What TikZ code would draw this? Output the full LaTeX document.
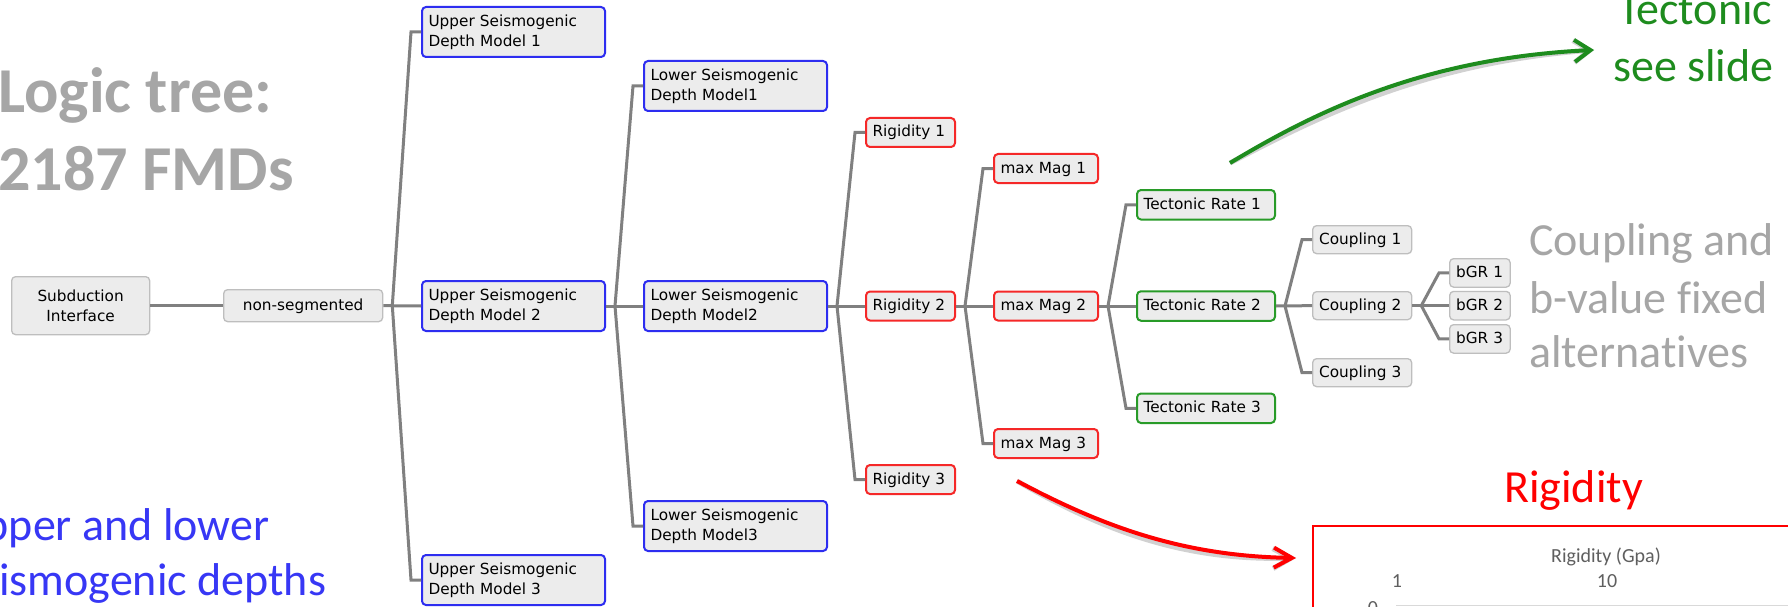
\documentclass[tikz,border=0pt]{standalone}
\usepackage{fontspec}
\setmainfont{DejaVu Sans}
\newfontfamily\calib[Ligatures=NoCommon]{Carlito}
\usetikzlibrary{arrows.meta}
\definecolor{boxfill}{RGB}{236,236,236}
\definecolor{lineg}{RGB}{128,128,128}
\definecolor{bblue}{RGB}{45,45,240}
\definecolor{bred}{RGB}{245,40,40}
\definecolor{bgreen}{RGB}{40,155,40}
\definecolor{bgray}{RGB}{190,190,190}
\definecolor{titlegray}{RGB}{166,166,166}
\definecolor{tblue}{RGB}{55,55,245}
\definecolor{tgreen}{RGB}{30,140,30}
\definecolor{chartgray}{RGB}{95,95,95}
\definecolor{axisgray}{RGB}{217,217,217}
\begin{document}
\begin{tikzpicture}[x=1pt,y=-1pt,
  box/.style={draw, fill=boxfill, rounded corners=4pt, line width=2pt, inner xsep=6.5pt, inner ysep=0pt,
    anchor=north west, font=\fontsize{15.3}{20}\selectfont, align=left},
  one/.style={text height=12pt, text depth=3pt},
  two/.style={text width=170pt, minimum height=50pt},
  bluebox/.style={box, two, draw=bblue},
  rigbox/.style={box, one, draw=bred, text width=76pt, minimum height=29pt},
  magbox/.style={box, one, draw=bred, text width=91pt, minimum height=29pt},
  greenbox/.style={box, one, draw=bgreen, text width=125pt, minimum height=29.5pt},
  graybox/.style={box, draw=bgray, line width=1.3pt},
  cbox/.style={graybox, one, text width=86pt, minimum height=28pt},
  bbox/.style={graybox, one, text width=47.5pt, minimum height=28.5pt},
  conn/.style={draw=lineg, line width=3pt},
  bigtext/.style={anchor=base west, inner sep=0pt, font=\calib\fontsize{46}{46}\selectfont},
  charttext/.style={anchor=base, inner sep=0pt, text=chartgray, font=\calib\fontsize{20}{20}\selectfont},
  shadow/.style={draw=black, opacity=0.18, line width=5pt, shift={(2,5)}}
]
\useasboundingbox (0,0) rectangle (1788,607);
\clip (0,0) rectangle (1788,607);
\fill[white] (0,0) rectangle (1788,607);

% titles and side texts
\node[anchor=base west, inner sep=0pt, text=titlegray, font=\calib\bfseries\fontsize{64}{64}\selectfont] (title1) at (-2,113) {Logic tree:};
\node[anchor=base west, inner sep=0pt, text=titlegray, font=\calib\bfseries\fontsize{64}{64}\selectfont] (title2) at (-2,190) {2187 FMDs};
\node[bigtext, text=tblue] (blue1) at (-45,540) {Upper and lower};
\node[bigtext, text=tblue] (blue2) at (-45,595) {Seismogenic depths};
\node[bigtext, text=titlegray] (cp1) at (1529,255) {Coupling and};
\node[bigtext, text=titlegray] (cp2) at (1529,313) {b-value fixed};
\node[bigtext, text=titlegray] (cp3) at (1529,367) {alternatives};
\node[bigtext, text=tgreen] (tg1) at (1618,25) {Tectonic};
\node[bigtext, text=tgreen] (tg2) at (1613,82) {see slide};
\node[bigtext, text=red] (rigt) at (1504,502) {Rigidity};

% chart frame
\draw[red, line width=2pt, fill=white] (1313,526) rectangle (1810,650);
\node[charttext] (cht) at (1606,562) {Rigidity (Gpa)};
\node[charttext] (tk1) at (1397,587) {1};
\node[charttext] (tk10) at (1607,587) {10};
\node[charttext] (tk0) at (1373,614) {0};
\draw[axisgray, line width=1.5pt] (1396,605.5) -- (1800,605.5);

% tree nodes
\node[graybox, text width=125pt, minimum height=58pt, align=center] (sub) at (11,276) {Subduction\\Interface};
\node[graybox, one, text width=146pt, minimum height=32pt, align=center] (nonseg) at (223,289) {non-segmented};
\node[bluebox] (u1) at (421,6) {Upper Seismogenic\\Depth Model 1};
\node[bluebox] (u2) at (421,280) {Upper Seismogenic\\Depth Model 2};
\node[bluebox] (u3) at (421,554) {Upper Seismogenic\\Depth Model 3};
\node[bluebox] (l1) at (643,60) {Lower Seismogenic\\Depth Model1};
\node[bluebox] (l2) at (643,280) {Lower Seismogenic\\Depth Model2};
\node[bluebox] (l3) at (643,500) {Lower Seismogenic\\Depth Model3};
\node[rigbox] (r1) at (865,117) {Rigidity 1};
\node[rigbox] (r2) at (865,290.5) {Rigidity 2};
\node[rigbox] (r3) at (865,464) {Rigidity 3};
\node[magbox] (m1) at (993,153) {max Mag 1};
\node[magbox] (m2) at (993,290.5) {max Mag 2};
\node[magbox] (m3) at (993,428) {max Mag 3};
\node[greenbox] (t1) at (1136,189) {Tectonic Rate 1};
\node[greenbox] (t2) at (1136,290.25) {Tectonic Rate 2};
\node[greenbox] (t3) at (1136,392.5) {Tectonic Rate 3};
\node[cbox] (c1) at (1312,225) {Coupling 1};
\node[cbox] (c2) at (1312,291) {Coupling 2};
\node[cbox] (c3) at (1312,358) {Coupling 3};
\node[bbox] (b1) at (1449,258) {bGR 1};
\node[bbox] (b2) at (1449,290.75) {bGR 2};
\node[bbox] (b3) at (1449,324) {bGR 3};

% connectors
\draw[conn] (sub.east) -- (nonseg.west);
\foreach \p/\a/\b/\c in {nonseg/u1/u2/u3, u2/l1/l2/l3, l2/r1/r2/r3, r2/m1/m2/m3, m2/t1/t2/t3, t2/c1/c2/c3, c2/b1/b2/b3}{
  \draw[conn] (\p.east) -- (\b.west);
  \draw[conn] ([xshift=9pt]\p.east) -- ([xshift=-10pt]\a.west) -- (\a.west);
  \draw[conn] ([xshift=9pt]\p.east) -- ([xshift=-10pt]\c.west) -- (\c.west);
}

% arrows
\coordinate (gs) at (1230,163);
\coordinate (ge) at (1594,50);
\coordinate (rs) at (1017,481);
\coordinate (re) at (1296,558);
\draw[shadow, -{Straight Barb[length=16pt,width=22pt]}] (gs) .. controls (1310,115) and (1420,58) .. (ge);
\draw[shadow, -{Straight Barb[length=18pt,width=20pt]}] (rs) .. controls (1100,525) and (1180,556) .. (re);
\draw[tgreen, line width=4pt, -{Straight Barb[length=16pt,width=22pt]}] (gs) .. controls (1310,115) and (1420,58) .. (ge);
\draw[red, line width=4pt, -{Straight Barb[length=18pt,width=20pt]}] (rs) .. controls (1100,525) and (1180,556) .. (re);
\end{tikzpicture}
\end{document}
